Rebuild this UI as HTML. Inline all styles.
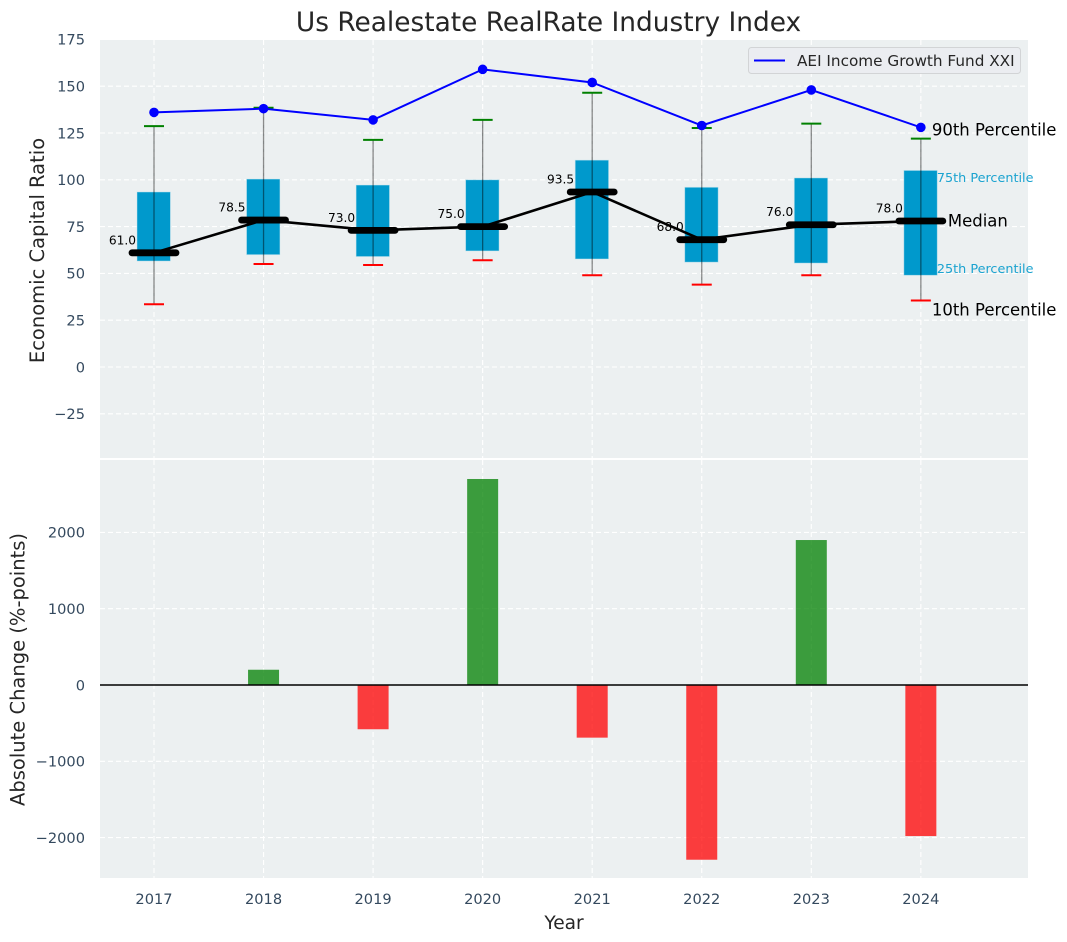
<!DOCTYPE html>
<html>
<head>
<meta charset="utf-8">
<title>Us Realestate RealRate Industry Index</title>
<style>
html,body{margin:0;padding:0;background:#fff;}
svg{display:block;font-family:"DejaVu Sans","Liberation Sans",sans-serif;}
</style>
</head>
<body>
<svg id="chart" xmlns="http://www.w3.org/2000/svg" width="1067" height="942" viewBox="0 0 1067 942">
  <rect x="0" y="0" width="1067" height="942" fill="#ffffff"/>
  <rect x="100" y="40" width="928" height="418" fill="#ecf0f1"/>
  <rect x="100" y="460" width="928" height="418" fill="#ecf0f1"/>
  <g id="grid"></g>
  <g id="bars"></g>
  <g id="boxes"></g>
  <g id="lines"></g>
  <g id="ticks"></g>
  <text x="548.5" y="31" text-anchor="middle" font-size="26.4" fill="#262626">Us Realestate RealRate Industry Index</text>
  <text transform="translate(44,250.5) rotate(-90)" text-anchor="middle" font-size="19.5" fill="#262626">Economic Capital Ratio</text>
  <text transform="translate(24.5,669.5) rotate(-90)" text-anchor="middle" font-size="19.5" fill="#262626">Absolute Change (%-points)</text>
  <text x="564" y="929" text-anchor="middle" font-size="18.6" fill="#262626">Year</text>
  <g>
    <rect x="748.5" y="47.5" width="272" height="26" rx="3" fill="#ebedf1" stroke="#d2d4d6" stroke-width="1"/>
    <line x1="754" y1="60.5" x2="785" y2="60.5" stroke="#0000ff" stroke-width="2"/>
    <text x="797" y="66" font-size="15.25" fill="#262626">AEI Income Growth Fund XXI</text>
  </g>
</svg>
<script>
const years = [2017, 2018, 2019, 2020, 2021, 2022, 2023, 2024];
const p90 = [128.7, 138.5, 121.3, 132, 146.5, 127.7, 130, 122];
const p75 = [93.5, 100.4, 97.2, 100, 110.5, 96, 101, 105];
const medians = [61, 78.5, 73, 75, 93.5, 68, 76, 78];
const p25 = [56.6, 60, 59, 62, 57.7, 56, 55.5, 49];
const p10 = [33.5, 55, 54.5, 57, 49, 44, 49, 35.5];
const fundValues = [136, 138, 132, 159, 152, 129, 148, 128];
const changes = [0, 200, -580, 2700, -690, -2290, 1900, -1980];
const topTicks = [-25, 0, 25, 50, 75, 100, 125, 150, 175];
const bottomTicks = [-2000, -1000, 0, 1000, 2000];

const NS = 'http://www.w3.org/2000/svg';
const xScale = function (year) { return 154 + (year - 2017) * 109.55; };
const yTop = function (v) { return 367 - v * 1.872; };
const yBottom = function (v) { return 685 - v * 0.0763; };

function mk(parent, tag, attrs, text) {
  const node = document.createElementNS(NS, tag);
  Object.keys(attrs).forEach(function (k) { node.setAttribute(k, attrs[k]); });
  if (text !== undefined) node.textContent = text;
  document.getElementById(parent).appendChild(node);
  return node;
}
function fmtMinus(v) { return v < 0 ? '\u2212' + Math.abs(v) : String(v); }

/* grid */
years.forEach(function (yr) {
  [[40, 458], [460, 878]].forEach(function (span) {
    const gx = mk('grid', 'line', { x1: xScale(yr), x2: xScale(yr), y1: span[0], y2: span[1], stroke: '#ffffff', 'stroke-width': 1.1, 'stroke-dasharray': '5 3' });
    
    
  });
});
topTicks.forEach(function (t) {
  const gy = mk('grid', 'line', { x1: 100, x2: 1028, y1: yTop(t), y2: yTop(t), stroke: '#ffffff', 'stroke-width': 1.1, 'stroke-dasharray': '5 3' });
  
  
  const lab = mk('ticks', 'text', { x: 85, y: yTop(t) + 5.3, 'text-anchor': 'end', 'font-size': 14.6, fill: '#34495e' }, fmtMinus(t));
  
  
});
bottomTicks.forEach(function (t) {
  const gy = mk('grid', 'line', { x1: 100, x2: 1028, y1: yBottom(t), y2: yBottom(t), stroke: '#ffffff', 'stroke-width': 1.1, 'stroke-dasharray': '5 3' });
  
  
  const lab = mk('ticks', 'text', { x: 85, y: yBottom(t) + 5.3, 'text-anchor': 'end', 'font-size': 14.6, fill: '#34495e' }, fmtMinus(t));
  
  
});
years.forEach(function (yr) {
  const lab = mk('ticks', 'text', { x: xScale(yr), y: 904, 'text-anchor': 'middle', 'font-size': 14.6, fill: '#34495e' }, String(yr));
  
  
});

/* bottom bars */
changes.forEach(function (v, i) {
  if (v === 0) return;
  const top = Math.min(yBottom(v), yBottom(0));
  const bar = mk('bars', 'rect', { x: xScale(years[i]) - 15.5, y: top, width: 31, height: Math.abs(yBottom(v) - yBottom(0)), fill: v >= 0 ? '#008000' : '#ff0000', 'fill-opacity': 0.75 });
  
  
});
const zero = mk('bars', 'line', { x1: 100, x2: 1028, y1: yBottom(0), y2: yBottom(0), stroke: '#000000', 'stroke-width': 1.5 });



/* boxes and whiskers */
years.forEach(function (yr, i) {
  const cx = xScale(yr);
  const box = mk('boxes', 'rect', { x: cx - 17, y: yTop(p75[i]), width: 33.4, height: yTop(p25[i]) - yTop(p75[i]), fill: '#0099cc', stroke: '#c4e4ef', 'stroke-opacity': 0.6, 'stroke-width': 0.8 });
  
  
  const wh = mk('boxes', 'line', { x1: cx, x2: cx, y1: yTop(p90[i]), y2: yTop(p10[i]), stroke: '#000000', 'stroke-opacity': 0.45, 'stroke-width': 1.3 });
  
  
  const hi = mk('boxes', 'line', { x1: cx - 10, x2: cx + 10, y1: yTop(p90[i]), y2: yTop(p90[i]), stroke: '#008000', 'stroke-width': 2 });
  
  
  const lo = mk('boxes', 'line', { x1: cx - 10, x2: cx + 10, y1: yTop(p10[i]), y2: yTop(p10[i]), stroke: '#ff0000', 'stroke-width': 2 });
  
  
});

/* median line, median dashes and labels */
const medianPath = mk('lines', 'polyline', { points: years.map(function (yr, i) { return xScale(yr) + ',' + yTop(medians[i]); }).join(' '), fill: 'none', stroke: '#000000', 'stroke-width': 2.6 });


years.forEach(function (yr, i) {
  const cx = xScale(yr);
  const dash = mk('lines', 'line', { x1: cx - 22, x2: cx + 22, y1: yTop(medians[i]), y2: yTop(medians[i]), stroke: '#000000', 'stroke-width': 6.8, 'stroke-linecap': 'round' });
  
  
  const lab = mk('lines', 'text', { x: cx - 18, y: yTop(medians[i]) - 8.5, 'text-anchor': 'end', 'font-size': 12.2, fill: '#000000' }, medians[i].toFixed(1));
  
  
});

/* fund line */
const fundPath = mk('lines', 'polyline', { points: years.map(function (yr, i) { return xScale(yr) + ',' + yTop(fundValues[i]); }).join(' '), fill: 'none', stroke: '#0000ff', 'stroke-width': 2 });


years.forEach(function (yr, i) {
  const dot = mk('lines', 'circle', { cx: xScale(yr), cy: yTop(fundValues[i]), r: 4.8, fill: '#0000ff' });
  
  
});

/* percentile annotations next to last year */
const last = years.length - 1;
const lastX = xScale(years[last]);
const a90 = mk('lines', 'text', { x: lastX + 11, y: yTop(p90[last]) - 3, 'font-size': 16.5, fill: '#000000' }, '90th Percentile');


const a75 = mk('lines', 'text', { x: lastX + 16, y: yTop(p75[last]) + 11.5, 'font-size': 12.8, fill: '#1ba3d0' }, '75th Percentile');


const a50 = mk('lines', 'text', { x: lastX + 27, y: yTop(medians[last]) + 5.5, 'font-size': 16.5, fill: '#000000' }, 'Median');


const a25 = mk('lines', 'text', { x: lastX + 16, y: yTop(p25[last]) - 2.5, 'font-size': 12.8, fill: '#1ba3d0' }, '25th Percentile');


const a10 = mk('lines', 'text', { x: lastX + 11, y: yTop(p10[last]) + 15, 'font-size': 16.5, fill: '#000000' }, '10th Percentile');


</script>
</body>
</html>
